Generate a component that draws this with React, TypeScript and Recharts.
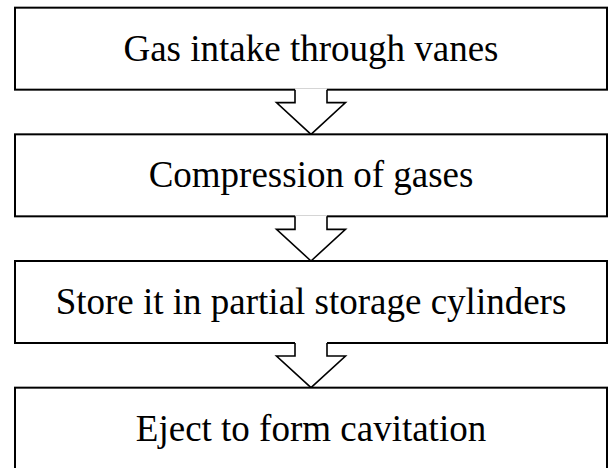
import { BarChart, Bar, XAxis, YAxis } from 'recharts';

// Flow steps, top to bottom
const steps = [
  'Gas intake through vanes',
  'Compression of gases',
  'Store it in partial storage cylinders',
  'Eject to form cavitation',
];
// every box spans the whole x domain
const spans = [1, 1, 1, 1];

const data = steps.map((step, i) => ({ step, span: spans[i] }));

const BOX_H = 82;
const BAND = 380 / 3;
const GAP = BAND - BOX_H;

function StepBox(props: any) {
  const { x, y, width, height, index } = props;
  const cx = x + width / 2;
  const bottom = y + height;
  const last = index === steps.length - 1;
  const shoulder = bottom + 13;
  const tip = bottom + GAP;
  const stem = 16;
  const wing = 34.5;
  const arrow = [
    [cx - stem, bottom],
    [cx - stem, shoulder],
    [cx - wing, shoulder],
    [cx, tip],
    [cx + wing, shoulder],
    [cx + stem, shoulder],
    [cx + stem, bottom],
  ];
  const fillPts = [[cx - stem, bottom - 1.2], ...arrow.slice(1, -1), [cx + stem, bottom - 1.2]];

  return (
    <g>
      <rect x={x} y={y} width={width} height={height} fill="#fff" stroke="#000" strokeWidth={2} />
      <text
        x={cx}
        y={y + height / 2 + 12}
        textAnchor="middle"
        fontFamily="'Liberation Serif', 'Times New Roman', serif"
        fontSize={37}
        fill="#000"
      >
        {steps[index]}
      </text>
      {!last && (
        <g>
          <polygon points={fillPts.map((p) => p.join(',')).join(' ')} fill="#fff" stroke="none" />
          <polyline
            points={arrow.map((p) => p.join(',')).join(' ')}
            fill="none"
            stroke="#000"
            strokeWidth={1.6}
            strokeLinejoin="miter"
          />
        </g>
      )}
    </g>
  );
}

export default function App() {
  return (
    <div style={{ position: 'absolute', left: 0, top: 0, background: '#fff' }}>
      <BarChart
        width={609}
        height={468}
        data={data}
        layout="vertical"
        margin={{ top: -14.33, right: 2, left: 15, bottom: -24.33 }}
      >
        <XAxis type="number" domain={[0, 1]} hide />
        <YAxis type="category" dataKey="step" hide />
        <Bar dataKey="span" barSize={BOX_H} shape={StepBox} isAnimationActive={false} />
      </BarChart>
    </div>
  );
}
